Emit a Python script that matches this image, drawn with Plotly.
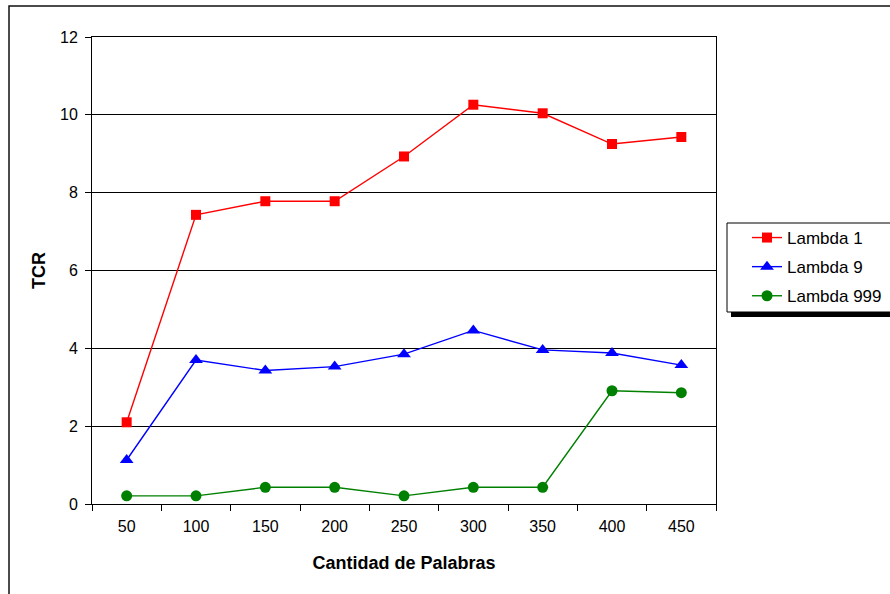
import plotly.graph_objects as go

# Word counts on the category axis
cantidades = ["50", "100", "150", "200", "250", "300", "350", "400", "450"]

# TCR for each lambda setting
tcr_lambda_1 = [2.10, 7.43, 7.78, 7.78, 8.93, 10.26, 10.04, 9.25, 9.43]
tcr_lambda_9 = [1.13, 3.70, 3.43, 3.53, 3.85, 4.46, 3.96, 3.88, 3.57]
tcr_lambda_999 = [0.21, 0.21, 0.43, 0.43, 0.21, 0.43, 0.43, 2.91, 2.86]

W, H = 890, 594
L, R, T, B = 92, 716, 37, 504  # plot area in pixels


def px(x):
    return (x - L) / (R - L)


def py(y):
    return (B - y) / (B - T)


fig = go.Figure()

series = [
    ("Lambda 1", tcr_lambda_1, "#FF0000", "square", 10),
    ("Lambda 9", tcr_lambda_9, "#0000FF", "triangle-up", 12),
    ("Lambda 999", tcr_lambda_999, "#008000", "circle", 11),
]
for name, vals, color, symbol, size in series:
    fig.add_trace(go.Scatter(
        x=cantidades, y=vals, name=name, legendgroup=name,
        mode="lines+markers",
        line=dict(color=color, width=1.4),
        marker=dict(symbol=symbol, size=size, color=color),
    ))

font = "Liberation Sans, Arial, sans-serif"

shapes = [
    # outer chart frame
    dict(type="rect", xref="paper", yref="paper",
         x0=px(9), x1=px(W + 20), y0=py(6), y1=py(H + 20),
         line=dict(color="#111111", width=1.5), fillcolor="rgba(0,0,0,0)"),
    # legend shadow
    dict(type="rect", xref="paper", yref="paper",
         x0=px(731), x1=px(W + 20), y0=py(227), y1=py(317),
         line=dict(width=0), fillcolor="#000000"),
    # legend box
    dict(type="rect", xref="paper", yref="paper",
         x0=px(727), x1=px(W + 20), y0=py(223), y1=py(312),
         line=dict(color="#000000", width=1), fillcolor="#FFFFFF"),
]

fig.update_layout(
    width=W, height=H,
    margin=dict(l=L, r=W - R, t=T, b=H - B, autoexpand=False),
    paper_bgcolor="white", plot_bgcolor="white",
    font=dict(family=font, size=16, color="#000000"),
    showlegend=True,
    legend=dict(
        x=px(747), y=py(220), xanchor="left", yanchor="top",
        bgcolor="rgba(0,0,0,0)", borderwidth=0,
        font=dict(family=font, size=17, color="#000000"),
        tracegroupgap=4, traceorder="grouped",
    ),
    shapes=shapes,
    xaxis=dict(
        type="category", tickson="boundaries", range=[-0.5, 8.5],
        automargin=False,
        showgrid=False, showline=True, linecolor="#000000", linewidth=1,
        mirror=True, ticks="outside", ticklen=6, tickcolor="#000000",
        tickfont=dict(size=16), ticklabelstandoff=8,
        title=dict(text="<b>Cantidad de Palabras</b>", font=dict(size=18),
                   standoff=22),
    ),
    yaxis=dict(
        range=[0, 12], dtick=2, tick0=0, automargin=False,
        showgrid=True, gridcolor="#000000", gridwidth=1,
        showline=True, linecolor="#000000", linewidth=1, mirror=True,
        ticks="outside", ticklen=6, tickcolor="#000000",
        tickfont=dict(size=16), zeroline=False, ticklabelstandoff=4,
        title=dict(text="<b>TCR</b>", font=dict(size=18), standoff=9),
    ),
)

fig.write_html("out.html")
